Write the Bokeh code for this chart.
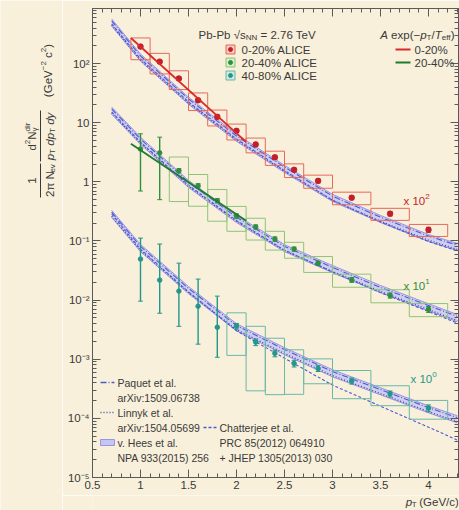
import math
from bokeh.plotting import figure
from bokeh.layouts import row, column
from bokeh.models import Range1d, FixedTicker, CustomJSTickFormatter, LinearAxis, LogAxis, Label
from bokeh.embed import file_html
from bokeh.resources import INLINE

# ---------------- data ----------------
pt = [1.0, 1.2, 1.4, 1.6, 1.8, 2.0, 2.2, 2.4, 2.6, 2.85, 3.2, 3.6, 4.0]
pt_lo = [0.9, 1.1, 1.3, 1.5, 1.7, 1.9, 2.1, 2.3, 2.5, 2.7, 3.0, 3.4, 3.8]
pt_hi = [1.1, 1.3, 1.5, 1.7, 1.9, 2.1, 2.3, 2.5, 2.7, 3.0, 3.4, 3.8, 4.2]

scale_0_20, scale_20_40, scale_40_80 = 100, 10, 1

yield_0_20 = [1.94, 1.08, 0.56, 0.24, 0.126, 0.073, 0.043, 0.026, 0.016, 0.0104, 0.0054, 0.0029, 0.00155]
stat_0_20 = [0.12, 0.07, 0.035, 0.016, 0.009, 0.005, 0.003, 0.002, 0.0012, 0.0008, 0.0004, 0.00025, 0.00015]
sys_0_20 = [0.40, 0.38, 0.35, 0.33, 0.30, 0.30, 0.28, 0.27, 0.26, 0.25, 0.24, 0.23, 0.23]

yield_20_40 = [0.36, 0.31, 0.155, 0.086, 0.048, 0.0265, 0.0173, 0.0108, 0.0073, 0.0042, 0.0022, 0.0012, 0.0007]
stat_20_40 = [0.29, 0.26, 0.012, 0.007, 0.004, 0.0022, 0.0014, 0.0009, 0.0006, 0.00035, 0.0002, 0.00012, 0.00008]
sys_20_40 = [0.0, 0.0, 0.70, 0.55, 0.55, 0.45, 0.40, 0.35, 0.30, 0.30, 0.25, 0.25, 0.25]

yield_40_80 = [0.0495, 0.0218, 0.0142, 0.0079, 0.00348, 0.00363, 0.00195, 0.00126, 0.00085, 0.0007, 0.00043, 0.00026, 0.000149]
stat_up_40_80 = [0.0625, 0.067, 0.028, 0.0148, 0.0082, 0.0004, 0.00025, 0.00016, 0.00011, 0.00008, 0.00005, 0.00003, 0.00002]
stat_dn_40_80 = [0.0399, 0.0158, 0.0106, 0.0061, 0.0024, 0.0004, 0.00025, 0.00016, 0.00011, 0.00008, 0.00005, 0.00003, 0.00002]
sys_40_80 = [0.0, 0.0, 0.0, 0.0, 0.0, 0.68, 0.85, 0.80, 0.70, 0.45, 0.50, 0.37, 0.35]

# A exp(-pT/Teff) fits (end points of fit range)
fit_pt = [0.9, 2.1]
fit_0_20 = [2.71, 0.0476]
fit_20_40 = [0.44, 0.022]

# model curves
th_pt = [0.7, 1.0, 1.5, 2.0, 2.5, 3.0, 3.5, 4.0, 4.3]
paquet_0_20 = [5.3, 1.35, 0.253, 0.0597, 0.0178, 0.00575, 0.00253, 0.00121, 0.00085]
linnyk_0_20 = [4.5, 1.15, 0.215, 0.0508, 0.0151, 0.00489, 0.00215, 0.00103, 0.00072]
hees_lo_0_20 = [4.3, 1.10, 0.205, 0.0485, 0.0144, 0.00466, 0.00205, 0.00098, 0.00069]
hees_hi_0_20 = [5.7, 1.45, 0.271, 0.064, 0.0191, 0.00616, 0.00271, 0.00129, 0.00091]
chatterjee_0_20 = [4.7, 1.2, 0.225, 0.053, 0.0155, 0.0049, 0.0021, 0.00098, 0.00068]

paquet_20_40 = [1.71, 0.53, 0.099, 0.0253, 0.0081, 0.00358, 0.00164, 0.00081, 0.00053]
linnyk_20_40 = [1.46, 0.451, 0.0844, 0.0215, 0.0069, 0.00306, 0.0014, 0.00069, 0.00045]
hees_lo_20_40 = [1.39, 0.431, 0.0805, 0.0205, 0.0066, 0.00291, 0.00134, 0.00066, 0.00043]
hees_hi_20_40 = [1.84, 0.569, 0.106, 0.0271, 0.0087, 0.00385, 0.00177, 0.00087, 0.00057]
chatterjee_20_40 = [1.52, 0.47, 0.088, 0.0222, 0.0070, 0.0030, 0.00134, 0.00064, 0.00041]

paquet_40_80 = [0.307, 0.0813, 0.0158, 0.00372, 0.00146, 0.00062, 0.000307, 0.000152, 0.000103]
linnyk_40_80 = [0.262, 0.0693, 0.01346, 0.00317, 0.00125, 0.000528, 0.000262, 0.00013, 0.0000877]
hees_lo_40_80 = [0.25, 0.0661, 0.01284, 0.00303, 0.00119, 0.000504, 0.00025, 0.000124, 0.0000837]
hees_hi_40_80 = [0.33, 0.0874, 0.017, 0.004, 0.00157, 0.000666, 0.00033, 0.000163, 0.000111]
chatterjee_40_80 = [0.287, 0.0726, 0.01377, 0.00303, 0.00104, 0.000365, 0.000161, 0.0000711, 0.000043]

x_ticks = [0.5, 1.0, 1.5, 2.0, 2.5, 3.0, 3.5, 4.0]
y_decades = [-5, -4, -3, -2, -1, 0, 1, 2]

# ---------------- style ----------------
FONT = "Liberation Sans"
BG = "#f8f0da"
AX = "#5a5a5a"
TXT = "#3a3a3a"
RED, RED_BOX, RED_FIT = "#c41e2a", "#e8685a", "#d82a2a"
GRN, GRN_BOX, GRN_FIT = "#2f8f3f", "#8cc47a", "#1f7a2f"
TEAL, TEAL_BOX = "#25968a", "#6ab8a8"
BLUE, DBLUE, PURP, LAV = "#4a5ad4", "#3a46a8", "#8a82dc", "#c6c6f4"

W, H = 459, 510
LEFTW = 62              # width of the strip that carries the y title
BOTH = 15               # height of the strip that carries the x title
FL, FR, FT, FB = 92, 458, 8, 477   # frame edges on the page
X0 = 0.5
X1 = 0.5 + (FR - FL) / 96.0
Y0 = 1e-5
Y1 = 10 ** (2 + (63 - FT) / 59.0)

MW, MH = W - LEFTW, H - BOTH
p = figure(width=MW, height=MH, x_range=Range1d(X0, X1), y_range=Range1d(Y0, Y1),
           y_axis_type="log", output_backend="svg", toolbar_location=None,
           min_border_left=FL - LEFTW, min_border_right=W - FR, min_border_top=FT,
           min_border_bottom=MH - FB, background_fill_color=BG, border_fill_color=BG,
           outline_line_color=AX)
p.xgrid.visible = False
p.ygrid.visible = False

xt = FixedTicker(ticks=x_ticks, minor_ticks=[round(0.5 + 0.1 * i, 2) for i in range(0, 39)])
yt = FixedTicker(ticks=[10.0 ** e for e in y_decades],
                 minor_ticks=[k * 10.0 ** e for e in y_decades for k in range(2, 10)])

def style_axis(a, labels=True):
    a.axis_line_color = AX
    a.major_tick_line_color = AX
    a.minor_tick_line_color = AX
    a.major_tick_in = 8
    a.major_tick_out = 0
    a.minor_tick_in = 4
    a.minor_tick_out = 0
    a.major_label_text_font = FONT
    a.major_label_text_color = TXT
    if labels:
        a.major_label_text_font_size = "11.5px"
        a.major_label_standoff = 3
    else:
        a.major_label_text_font_size = "0px"
        a.major_label_standoff = 0
        a.formatter = CustomJSTickFormatter(code="return ''")

bx = p.below[0]
bx.ticker = xt
bx.formatter = CustomJSTickFormatter(code="return (Math.round(tick*10)/10).toString();")
style_axis(bx)
ly = p.left[0]
ly.ticker = yt
ly.formatter = CustomJSTickFormatter(code="""
const e = Math.round(Math.log10(tick));
if (e == 0) { return "1"; }
if (e == 1) { return "10"; }
const sup = {"-": "\u207b", "0": "\u2070", "1": "\u00b9", "2": "\u00b2", "3": "\u00b3",
             "4": "\u2074", "5": "\u2075", "6": "\u2076", "7": "\u2077", "8": "\u2078", "9": "\u2079"};
return "10" + String(e).split("").map(c => sup[c]).join("");
""")
style_axis(ly)
top = LinearAxis(ticker=xt)
style_axis(top, labels=False)
p.add_layout(top, "above")
right = LogAxis(ticker=yt)
style_axis(right, labels=False)
p.add_layout(right, "right")

# side strips (page-pixel coordinates)
pl = figure(width=LEFTW, height=H, x_range=Range1d(0, LEFTW), y_range=Range1d(H, 0),
            x_axis_type=None, y_axis_type=None, output_backend="svg", toolbar_location=None,
            min_border=0, background_fill_color=BG, border_fill_color=BG, outline_line_color=None)
pb = figure(width=MW, height=BOTH, x_range=Range1d(LEFTW, W), y_range=Range1d(H, MH),
            x_axis_type=None, y_axis_type=None, output_backend="svg", toolbar_location=None,
            min_border=0, background_fill_color=BG, border_fill_color=BG, outline_line_color=None)

# ---------------- helpers ----------------
HW = {' ': 278, '(': 333, ')': 333, '-': 333, '.': 278, '/': 278, ':': 278, '=': 584, '%': 889,
      '+': 584, 'A': 667, 'C': 722, 'E': 667, 'G': 778, 'H': 722, 'I': 278, 'J': 500, 'L': 556,
      'N': 722, 'P': 667, 'R': 722, 'T': 611, 'V': 667, 'X': 667, 'a': 556, 'b': 556, 'c': 500,
      'd': 556, 'e': 556, 'f': 278, 'h': 556, 'i': 222, 'j': 222, 'k': 500, 'l': 222, 'm': 833,
      'n': 556, 'o': 556, 'p': 556, 'q': 556, 'r': 333, 's': 500, 't': 278, 'u': 556, 'v': 500,
      'x': 500, 'y': 500, '\u221a': 549, '\u03c0': 560, '\u03b3': 500, '\u2212': 584}

def tw(s, size):
    return sum(HW.get(c, 556) for c in s) * size / 1000.0

def dx(px):
    return X0 + (px - FL) * (X1 - X0) / (FR - FL)

def dy(py):
    l0, l1 = math.log10(Y0), math.log10(Y1)
    return 10 ** (l1 - (py - FT) * (l1 - l0) / (FB - FT))

def lab(px, py, text, size, color=TXT, style="normal", angle=0.0, align="left", fig=None):
    kw = dict(text=text, text_font=FONT, text_font_size="%.1fpx" % size, text_color=color,
              text_font_style=style, text_align=align, text_baseline="middle", angle=angle)
    if fig is None:
        p.add_layout(Label(x=px - FL, y=FB - py, x_units="screen", y_units="screen", **kw))
    else:
        fig.add_layout(Label(x=px, y=py, x_units="data", y_units="data", **kw))

def rich(px, py, parts, size, color=TXT, align="left", rot=False, fig=None):
    total = 0.0
    for txt, kind in parts:
        if kind == "sub0":
            continue
        s = size * 0.7 if kind in ("sub", "sup") else size
        total += tw(txt, s)
    adv = {"left": 0.0, "center": -total / 2, "right": -total}[align]
    for txt, kind in parts:
        small = kind in ("sub", "sup", "sub0")
        s = size * 0.7 if small else size
        if kind in ("sub", "sub0"):
            off = size * 0.3
        elif kind == "sup":
            off = -size * 0.38
        else:
            off = 0.0
        style = "italic" if kind == "i" else "normal"
        core = txt.strip(" ")
        lead = tw(txt[:len(txt) - len(txt.lstrip(" "))], s)
        if core:
            if rot:
                lab(px + off, py - adv - lead, core, s, color, style, angle=math.pi / 2, fig=fig)
            else:
                lab(px + adv + lead, py + off, core, s, color, style, fig=fig)
        if kind != "sub0":
            adv += tw(txt, s)

# ---------------- model curves ----------------
models = [
    (paquet_0_20, linnyk_0_20, hees_lo_0_20, hees_hi_0_20, chatterjee_0_20, scale_0_20),
    (paquet_20_40, linnyk_20_40, hees_lo_20_40, hees_hi_20_40, chatterjee_20_40, scale_20_40),
    (paquet_40_80, linnyk_40_80, hees_lo_40_80, hees_hi_40_80, chatterjee_40_80, scale_40_80),
]
for paq, lin, hlo, hhi, cha, sc in models:
    lo = [v * sc for v in hlo]
    hi = [v * sc for v in hhi]
    p.varea(x=th_pt, y1=lo, y2=hi, fill_color=LAV, fill_alpha=0.8)
    p.line(th_pt, lo, line_color=PURP, line_width=0.8)
    p.line(th_pt, hi, line_color=PURP, line_width=0.8)
    p.line(th_pt, [v * sc for v in paq], line_color=BLUE, line_width=1.1, line_dash="6 2 1 2")
    p.line(th_pt, [v * sc for v in lin], line_color=DBLUE, line_width=1.3, line_dash="1 2")
    p.line(th_pt, [v * sc for v in cha], line_color=BLUE, line_width=1.1, line_dash="3 2")

# ---------------- data series ----------------
def draw_series(y, sc, dn, up, sysr, col, boxcol, size):
    sel = [i for i, s in enumerate(sysr) if s > 0]
    p.quad(left=[pt_lo[i] for i in sel], right=[pt_hi[i] for i in sel],
           bottom=[y[i] * (1 - sysr[i]) * sc for i in sel],
           top=[y[i] * (1 + sysr[i]) * sc for i in sel],
           fill_alpha=0, line_color=boxcol, line_width=1)
    lo = [(v - d) * sc for v, d in zip(y, dn)]
    hi = [(v + u) * sc for v, u in zip(y, up)]
    p.segment(pt, lo, pt, hi, line_color=col, line_width=1.4)
    xl = [x - 0.025 for x in pt]
    xr = [x + 0.025 for x in pt]
    p.segment(xl, hi, xr, hi, line_color=col, line_width=1)
    p.segment(xl, lo, xr, lo, line_color=col, line_width=1)
    p.scatter(pt, [v * sc for v in y], size=size, marker="circle", fill_color=col, line_color=col)

draw_series(yield_0_20, scale_0_20, stat_0_20, stat_0_20, sys_0_20, RED, RED_BOX, 5.5)
draw_series(yield_20_40, scale_20_40, stat_20_40, stat_20_40, sys_20_40, GRN, GRN_BOX, 4.5)
draw_series(yield_40_80, scale_40_80, stat_dn_40_80, stat_up_40_80, sys_40_80, TEAL, TEAL_BOX, 4.5)

p.line(fit_pt, [v * scale_0_20 for v in fit_0_20], line_color=RED_FIT, line_width=1.8)
p.line(fit_pt, [v * scale_20_40 for v in fit_20_40], line_color=GRN_FIT, line_width=1.8)

# scale labels
rich(403, 200, [("x 10", "n"), ("2", "sup")], 11.5, RED)
rich(403, 285, [("x 10", "n"), ("1", "sup")], 11.5, GRN)
rich(410, 378, [("x 10", "n"), ("0", "sup")], 11.5, TEAL)

# ---------------- top-right legend ----------------
LS = 11.5
rich(198, 34, [("Pb-Pb ", "n"), ("\u221a", "n"), ("s", "n"), ("NN", "sub"), (" = 2.76 TeV", "n")], LS)
rich(454, 34, [("A", "i"), (" exp(\u2212", "n"), ("p", "i"), ("T", "sub"), ("/", "n"), ("T", "i"),
               ("eff", "sub"), (")", "n")], LS, align="right")
rows = [(49, RED, RED_BOX, "#f6c9c0", "0-20% ALICE"),
        (62, GRN, GRN_BOX, "#d8ecc8", "20-40% ALICE"),
        (75, TEAL, TEAL_BOX, "#cfe8e0", "40-80% ALICE")]
for py, col, bcol, fcol, txt in rows:
    p.scatter([dx(230)], [dy(py)], marker="square", size=9, fill_color=fcol, line_color=bcol)
    p.scatter([dx(230)], [dy(py)], marker="circle", size=4, fill_color=col, line_color=col)
    lab(241, py, txt, LS)
p.line([dx(395), dx(410)], [dy(49), dy(49)], line_color=RED_FIT, line_width=2)
lab(414, 49, "0-20%", LS)
p.line([dx(395), dx(410)], [dy(62), dy(62)], line_color=GRN_FIT, line_width=2)
lab(414, 62, "20-40%", LS)

# ---------------- bottom-left legend ----------------
BS = 10.5
r = [382, 397, 412, 427, 442, 457]
p.line([dx(100), dx(114)], [dy(r[0])] * 2, line_color=BLUE, line_width=1.3, line_dash="6 2 1 2")
lab(117, r[0], "Paquet et al.", BS)
lab(117, r[1], "arXiv:1509.06738", BS)
p.line([dx(100), dx(114)], [dy(r[2])] * 2, line_color=DBLUE, line_width=1.5, line_dash="1 2")
lab(117, r[2], "Linnyk et al.", BS)
lab(117, r[3], "arXiv:1504.05699", BS)
p.quad(left=[dx(100)], right=[dx(114)], bottom=[dy(r[4] + 3)], top=[dy(r[4] - 3)],
       fill_color=LAV, line_color=PURP, line_width=0.8)
lab(117, r[4], "v. Hees et al.", BS)
lab(117, r[5], "NPA 933(2015) 256", BS)
p.line([dx(203), dx(216)], [dy(r[3])] * 2, line_color=BLUE, line_width=1.3, line_dash="3 2")
lab(219, r[3], "Chatterjee et al.", BS)
lab(219, r[4], "PRC 85(2012) 064910", BS)
lab(219, r[5], "+ JHEP 1305(2013) 030", BS)

# ---------------- axis titles ----------------
rich(456, 501, [("p", "i"), ("T", "sub"), (" (GeV/c)", "n")], 11.5, align="right", fig=pb)

YS = 11.5
rich(31, 180, [("1", "n")], YS, align="center", rot=True, fig=pl)
pl.segment(x0=[40], y0=[163], x1=[40], y1=[197], line_color=TXT, line_width=1)
rich(49, 180, [("2\u03c0 N", "n"), ("ev", "sub")], YS, align="center", rot=True, fig=pl)
rich(31, 136, [("d", "n"), ("2", "sup"), ("N", "n"), ("\u03b3", "sub0"), ("dir", "sup")], YS,
     align="center", rot=True, fig=pl)
pl.segment(x0=[40], y0=[110], x1=[40], y1=[161], line_color=TXT, line_width=1)
rich(49, 136, [("p", "i"), ("T", "sub"), (" dp", "i"), ("T", "sub"), (" dy", "i")], YS,
     align="center", rot=True, fig=pl)
rich(47, 70, [("(GeV", "n"), ("\u22122", "sup"), (" c", "n"), ("2", "sup"), (")", "n")], YS,
     align="center", rot=True, fig=pl)

layout = row(pl, column(p, pb, spacing=0), spacing=0)
open("out.html", "w").write(file_html(layout, INLINE))
